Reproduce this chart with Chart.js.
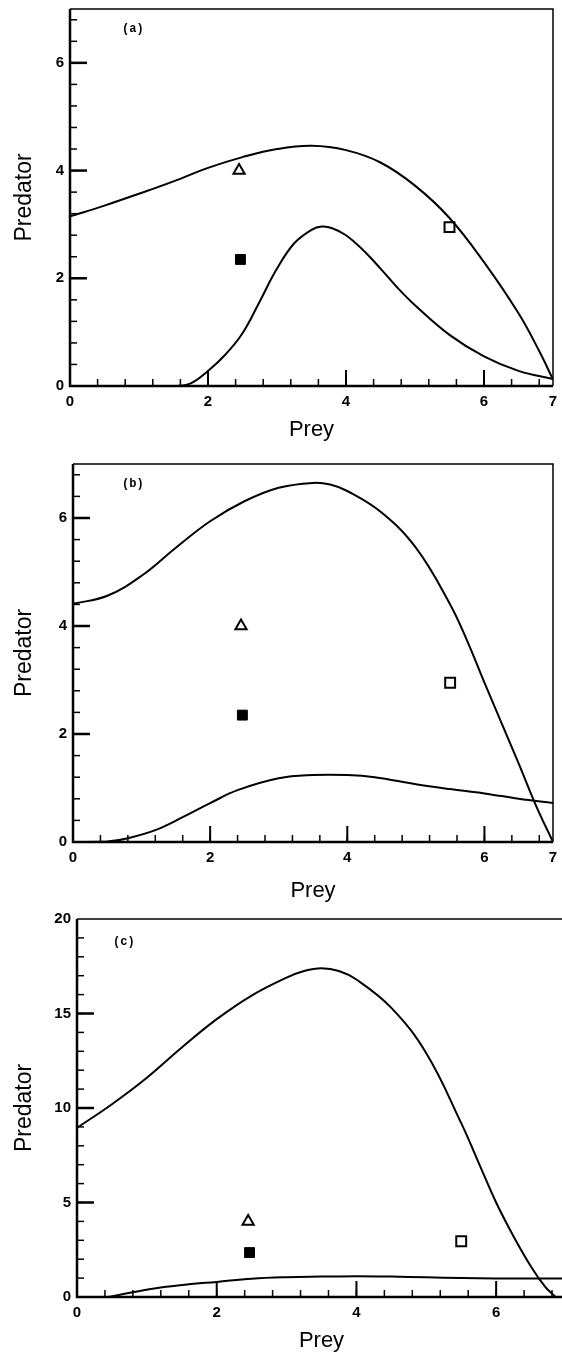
<!DOCTYPE html>
<html lang="en">
<head>
  <meta charset="UTF-8">
  <title>Predator vs Prey</title>
  <script src="https://cdn.jsdelivr.net/npm/chart.js"></script>
  <style>
    html, body { margin: 0; padding: 0; background: #fff; overflow: hidden; }
    body { position: relative; width: 562px; height: 1356px; }
    canvas { position: absolute; left: 0; }
  </style>
</head>
<body>
<canvas id="chartA" width="562" height="445" style="top:0"></canvas>
<canvas id="chartB" width="562" height="465" style="top:440px"></canvas>
<canvas id="chartC" width="575" height="461" style="top:895px"></canvas>

<script>
  const xTicks = [0, 2, 4, 6, 7];
  const yTicksAB = [0, 2, 4, 6];
  const yTicksC = [0, 5, 10, 15, 20];

  // same three observations in every panel
  const trianglePrey = [2.45], trianglePred = [4.0];
  const filledPrey = [2.47], filledPred = [2.35];
  const openPrey = [5.5], openPred = [2.95];

  // panel (a)
  const aUpperPrey = [0, 0.5, 1, 1.5, 2, 2.5, 3, 3.5, 4, 4.5, 5, 5.5, 6, 6.5, 6.8, 7];
  const aUpperPred = [3.15, 3.35, 3.57, 3.8, 4.05, 4.25, 4.4, 4.46, 4.38, 4.15, 3.72, 3.12, 2.3, 1.35, 0.65, 0.12];
  const aLowerPrey = [0.8, 1.5, 1.75, 2, 2.25, 2.5, 2.75, 3, 3.25, 3.5, 3.65, 3.8, 4, 4.25, 4.5, 4.75, 5, 5.5, 6, 6.5, 7];
  const aLowerPred = [0, 0, 0.05, 0.28, 0.58, 0.98, 1.57, 2.18, 2.65, 2.9, 2.96, 2.93, 2.8, 2.52, 2.18, 1.82, 1.5, 0.95, 0.55, 0.28, 0.13];

  // panel (b)
  const bUpperPrey = [0, 0.5, 1, 1.5, 2, 2.5, 3, 3.5, 3.75, 4, 4.5, 5, 5.5, 5.75, 6, 6.5, 6.75, 7];
  const bUpperPred = [4.41, 4.56, 4.93, 5.45, 5.94, 6.31, 6.56, 6.65, 6.62, 6.5, 6.1, 5.45, 4.4, 3.72, 2.95, 1.45, 0.68, 0];
  const bLowerPrey = [0, 0.5, 0.8, 1.2, 1.6, 2, 2.4, 3, 3.5, 4, 4.4, 5, 5.5, 6, 6.5, 7];
  const bLowerPred = [0, 0.01, 0.07, 0.22, 0.46, 0.72, 0.96, 1.18, 1.24, 1.24, 1.2, 1.07, 0.98, 0.9, 0.8, 0.72];

  // panel (c)
  const cUpperPrey = [0, 0.5, 1, 1.5, 2, 2.5, 3, 3.25, 3.5, 3.75, 4, 4.5, 5, 5.5, 5.75, 6, 6.25, 6.5, 6.7, 6.85];
  const cUpperPred = [8.95, 10.2, 11.6, 13.2, 14.7, 15.95, 16.9, 17.25, 17.4, 17.25, 16.8, 15.3, 12.9, 9.2, 7.1, 5.0, 3.2, 1.6, 0.55, 0];
  const cLowerPrey = [0.45, 0.8, 1.2, 1.6, 2, 2.5, 3, 3.5, 4, 4.5, 5, 5.5, 6, 6.5, 7];
  const cLowerPred = [0, 0.25, 0.5, 0.67, 0.8, 0.97, 1.05, 1.08, 1.1, 1.08, 1.04, 1.0, 0.98, 0.98, 0.98];

  Chart.defaults.font.family = "'Liberation Sans', Arial, sans-serif";
  Chart.defaults.color = '#000';

  function toPoints(xs, ys) {
    return xs.map((x, i) => ({x: x, y: ys[i]}));
  }

  // frame, inward ticks and the panel letter
  const frameTicks = {
    id: 'frameTicks',
    beforeDatasetsDraw(chart, args, o) {
      const {ctx, chartArea: a, scales: {x, y}} = chart;
      ctx.save();
      ctx.strokeStyle = '#000';

      ctx.lineWidth = 1.5;
      ctx.beginPath();
      ctx.moveTo(a.left, a.top);
      ctx.lineTo(a.right, a.top);
      ctx.lineTo(a.right, a.bottom);
      ctx.stroke();
      ctx.lineWidth = 2.5;
      ctx.beginPath();
      ctx.moveTo(a.left, a.top);
      ctx.lineTo(a.left, a.bottom);
      ctx.lineTo(a.right, a.bottom);
      ctx.stroke();

      function xTick(v, len, lw) {
        const px = x.getPixelForValue(v);
        ctx.lineWidth = lw;
        ctx.beginPath();
        ctx.moveTo(px, a.bottom);
        ctx.lineTo(px, a.bottom - len);
        ctx.stroke();
      }
      function yTick(v, len, lw) {
        const py = y.getPixelForValue(v);
        ctx.lineWidth = lw;
        ctx.beginPath();
        ctx.moveTo(a.left, py);
        ctx.lineTo(a.left + len, py);
        ctx.stroke();
      }

      for (let i = 1; i * o.xMinor < x.max - 1e-6; i++) xTick(i * o.xMinor, 7, 1.5);
      o.xMajor.forEach(v => xTick(v, 16, 2));
      for (let i = 1; i * o.yMinor < y.max - 1e-6; i++) yTick(i * o.yMinor, 7, 1.5);
      o.yMajor.forEach(v => yTick(v, 17, 2.5));

      ctx.font = 'bold 12px "Liberation Mono", monospace';
      ctx.fillStyle = '#000';
      ctx.textBaseline = 'middle';
      ctx.fillText(o.label, a.left + o.dx, a.top + o.dy);
      ctx.restore();
    }
  };

  function makePanel(id, p) {
    const line = {
      showLine: true,
      borderColor: '#000',
      borderWidth: 2,
      pointRadius: 0,
      tension: 0.4
    };
    return new Chart(document.getElementById(id), {
      type: 'scatter',
      data: {
        datasets: [
          Object.assign({data: toPoints(p.upper[0], p.upper[1])}, line),
          Object.assign({data: toPoints(p.lower[0], p.lower[1])}, line),
          {
            data: toPoints(trianglePrey, trianglePred),
            pointStyle: 'triangle', pointRadius: 6.5, borderWidth: 2,
            borderColor: '#000', backgroundColor: '#fff'
          },
          {
            data: toPoints(filledPrey, filledPred),
            pointStyle: 'rect', pointRadius: 7, borderWidth: 1,
            borderColor: '#000', backgroundColor: '#000'
          },
          {
            data: toPoints(openPrey, openPred),
            pointStyle: 'rect', pointRadius: 7, borderWidth: 2,
            borderColor: '#000', backgroundColor: '#fff'
          }
        ]
      },
      options: {
        responsive: false,
        animation: false,
        events: [],
        layout: {padding: {left: 11, top: p.top, right: p.right, bottom: p.bottom}},
        plugins: {
          legend: {display: false},
          tooltip: {enabled: false},
          frameTicks: {
            label: p.label, dx: p.dx, dy: p.dy,
            xMinor: 0.4, xMajor: [2, 4, 6],
            yMinor: p.yMinor, yMajor: p.yMajor
          }
        },
        scales: {
          x: {
            type: 'linear',
            min: 0,
            max: 7,
            grid: {display: false, drawTicks: false},
            border: {display: false},
            ticks: {font: {size: 15, weight: 'bold'}, padding: 7},
            title: {display: true, text: 'Prey', font: {size: 22}, padding: 0},
            afterBuildTicks: s => { s.ticks = xTicks.map(v => ({value: v})); },
            afterFit: s => { s.height = p.xHeight; s.paddingLeft = 0; s.paddingRight = 0; }
          },
          y: {
            type: 'linear',
            min: 0,
            max: p.yMax,
            grid: {display: false, drawTicks: false},
            border: {display: false},
            ticks: {font: {size: 15, weight: 'bold'}, padding: 6},
            title: {display: true, text: 'Predator', font: {size: 23}, padding: 0},
            afterBuildTicks: s => { s.ticks = p.yTicks.map(v => ({value: v})); },
            afterFit: s => { s.width = p.yWidth; s.paddingTop = 0; s.paddingBottom = 0; }
          }
        }
      },
      plugins: [frameTicks]
    });
  }

  makePanel('chartA', {
    upper: [aUpperPrey, aUpperPred], lower: [aLowerPrey, aLowerPred],
    yMax: 7, yTicks: yTicksAB, yMinor: 0.4, yMajor: [2, 4, 6],
    top: 8, right: 4, bottom: 2, yWidth: 59, xHeight: 57,
    label: '(a)', dx: 52, dy: 20
  });
  makePanel('chartB', {
    upper: [bUpperPrey, bUpperPred], lower: [bLowerPrey, bLowerPred],
    yMax: 7, yTicks: yTicksAB, yMinor: 0.4, yMajor: [2, 4, 6],
    top: 24, right: 2, bottom: 1, yWidth: 62, xHeight: 62,
    label: '(b)', dx: 49, dy: 20
  });
  makePanel('chartC', {
    upper: [cUpperPrey, cUpperPred], lower: [cLowerPrey, cLowerPred],
    yMax: 20, yTicks: yTicksC, yMinor: 1, yMajor: [5, 10, 15],
    top: 24, right: 8, bottom: 2, yWidth: 66, xHeight: 57,
    label: '(c)', dx: 36, dy: 23
  });
</script>
</body>
</html>
